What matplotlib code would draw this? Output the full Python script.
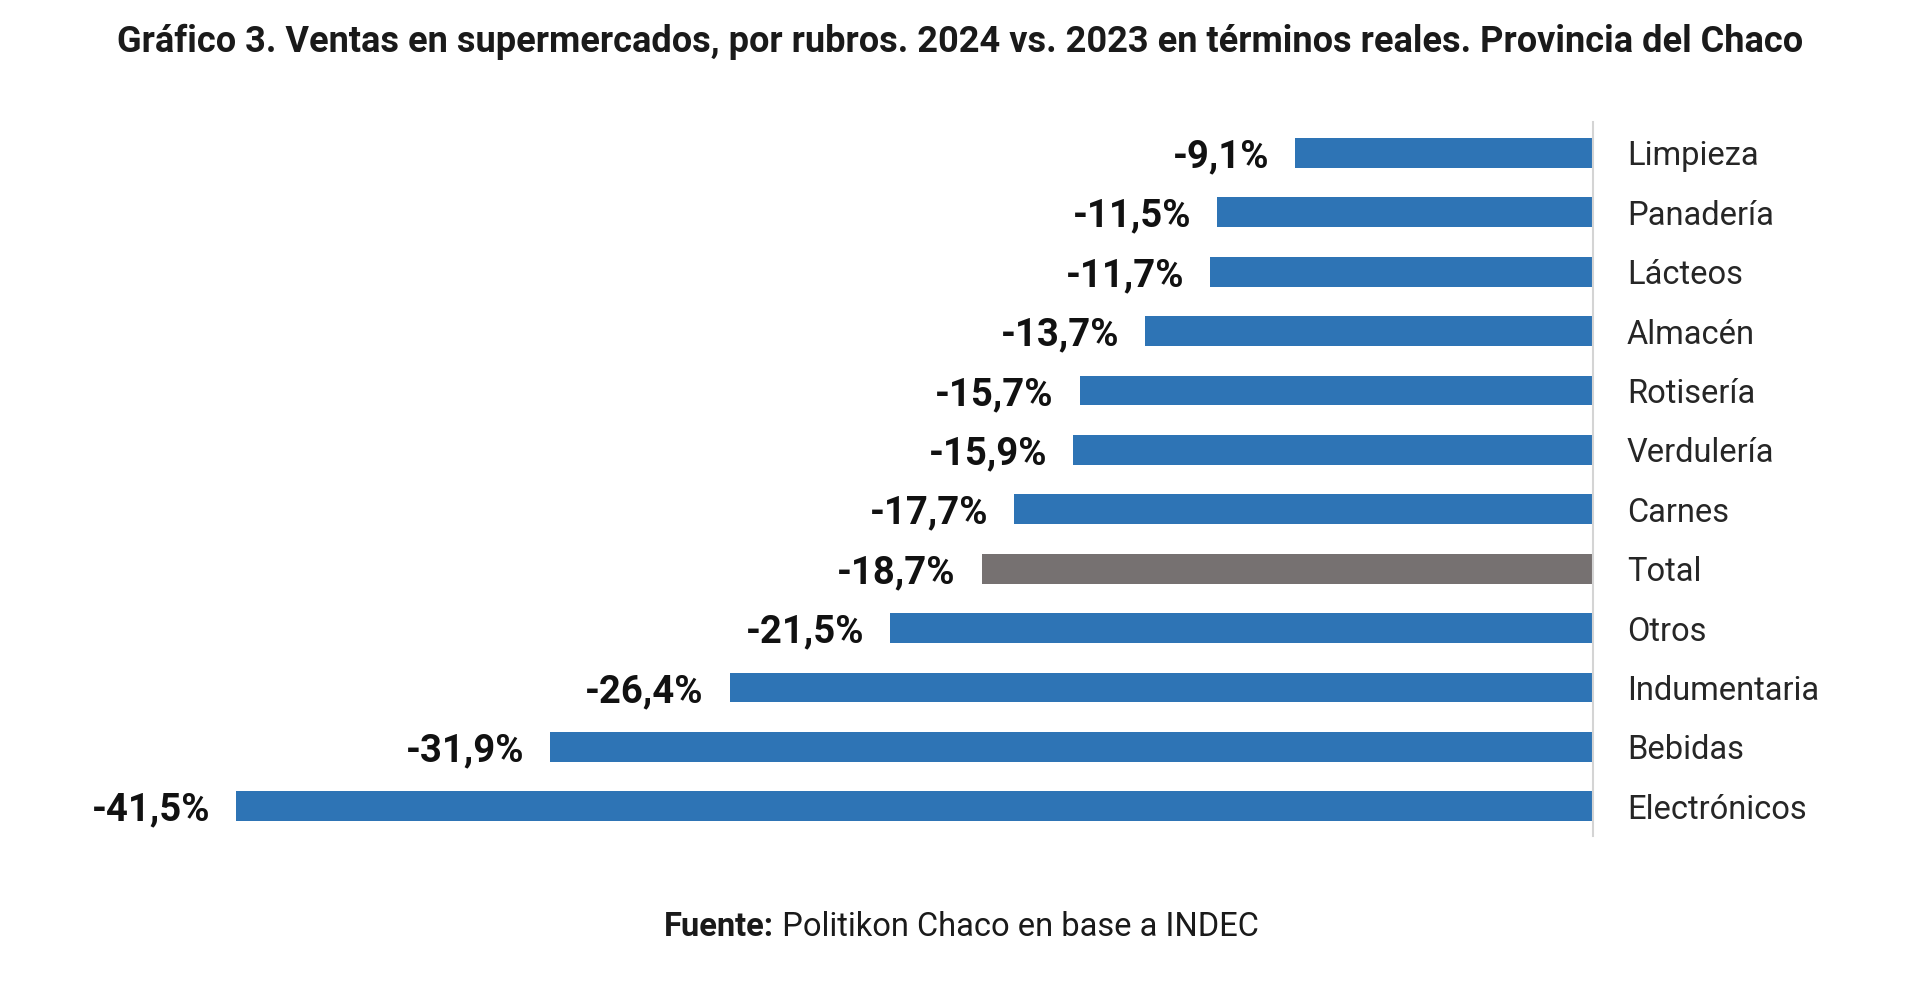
import matplotlib
matplotlib.use("Agg")
import matplotlib.pyplot as plt

categories = ["Limpieza", "Panadería", "Lácteos", "Almacén", "Rotisería", "Verdulería",
              "Carnes", "Total", "Otros", "Indumentaria", "Bebidas", "Electrónicos"]
values = [-9.1, -11.5, -11.7, -13.7, -15.7, -15.9, -17.7, -18.7, -21.5, -26.4, -31.9, -41.5]
value_labels = ["-9,1%", "-11,5%", "-11,7%", "-13,7%", "-15,7%", "-15,9%", "-17,7%",
                "-18,7%", "-21,5%", "-26,4%", "-31,9%", "-41,5%"]
title = "Gráfico 3. Ventas en supermercados, por rubros. 2024 vs. 2023 en términos reales. Provincia del Chaco"
source_bold = "Fuente:"
source_rest = " Politikon Chaco en base a INDEC"

BLUE = "#2E74B5"
GRAY = "#767171"
plt.rcParams['font.family'] = ['Roboto', 'DejaVu Sans']

W, H = 1920, 988
fig = plt.figure(figsize=(W / 100, H / 100), dpi=100)
ax = fig.add_axes([236 / W, 152 / H, (1593 - 236) / W, 714 / H])

ypos = list(range(len(categories)))
colors = [GRAY if c == "Total" else BLUE for c in categories]
ax.barh(ypos, values, height=0.5, color=colors)
ax.set_xlim(-41.5, 0)
ax.set_ylim(len(categories) - 0.5, -0.52)

for sp in ["top", "left", "bottom"]:
    ax.spines[sp].set_visible(False)
ax.spines["right"].set_color("#d4d4d4")
ax.spines["right"].set_linewidth(1.5)
ax.set_xticks([])
ax.yaxis.tick_right()
ax.set_yticks(ypos)
ax.set_yticklabels(categories, fontsize=23.5, color="#262626")
ax.tick_params(axis="y", length=0, pad=24.5)

for y, v, lab in zip(ypos, values, value_labels):
    ax.annotate(lab, xy=(v, y), xytext=(-26, -4), textcoords="offset pixels",
                ha="right", va="center", fontsize=27.5, fontweight="bold", color="#111111")

fig.text(0.5, 1 - 42 / H, title, ha="center", va="center", fontsize=26,
         fontweight="bold", color="#1a1a1a")

# source line with bold prefix
fig.canvas.draw()
r = fig.canvas.get_renderer()
t1 = fig.text(0, 1 - 927 / H, source_bold, ha="left", va="center", fontsize=23.5,
              fontweight="bold", color="#1a1a1a")
t2 = fig.text(0, 1 - 927 / H, source_rest, ha="left", va="center", fontsize=23.5,
              color="#1a1a1a")
w1 = t1.get_window_extent(r).width
w2 = t2.get_window_extent(r).width
x0 = (961 - (w1 + w2) / 2) / W
t1.set_x(x0)
t2.set_x(x0 + w1 / W)

fig.savefig("out.png", dpi=100, facecolor="white")
